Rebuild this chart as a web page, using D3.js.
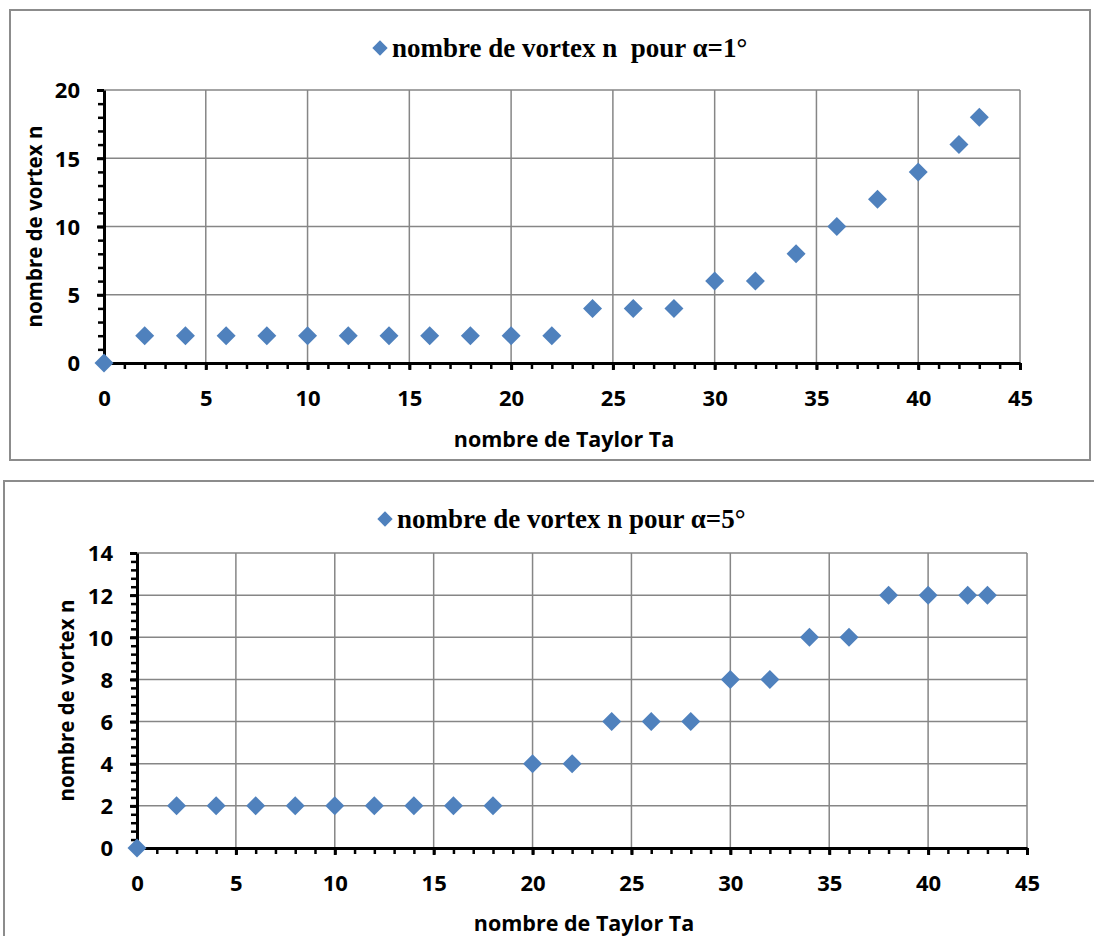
<!DOCTYPE html>
<html>
<head>
<meta charset="utf-8">
<script src="https://d3js.org/d3.v7.min.js"></script>
<style>
  body { margin: 0; background: #fff; }
  svg { display: block; }
</style>
</head>
<body>
<div id="chart"></div>
<script>
// data
const taylor = [0, 2, 4, 6, 8, 10, 12, 14, 16, 18, 20, 22, 24, 26, 28, 30, 32, 34, 36, 38, 40, 42, 43];
const vortexAlpha1 = [0, 2, 2, 2, 2, 2, 2, 2, 2, 2, 2, 2, 4, 4, 4, 6, 6, 8, 10, 12, 14, 16, 18];
const vortexAlpha5 = [0, 2, 2, 2, 2, 2, 2, 2, 2, 2, 4, 4, 6, 6, 6, 8, 8, 10, 10, 12, 12, 12, 12];
const xTicks = [0, 5, 10, 15, 20, 25, 30, 35, 40, 45];
const yTicks1 = [0, 5, 10, 15, 20];
const yTicks5 = [0, 2, 4, 6, 8, 10, 12, 14];
const titles = ["nombre de vortex n\u00a0 pour \u03b1=1\u00b0", "nombre de vortex n pour \u03b1=5\u00b0"];
const xLabel = "nombre de Taylor Ta";
const yLabel = "nombre de vortex n";

const W = 1094, H = 936;
const blue = "#4F81BD", grid = "#868686", frame = "#8c8c8c";
const labelFont = "'Open Sans', Lato, sans-serif";
const titleFont = "'Liberation Serif', 'Times New Roman', serif";

const svg = d3.select("#chart").append("svg")
  .attr("width", W)
  .attr("height", H);

const charts = [
  {
    frame: [10, 10, 1080, 450],
    plot: {left: 104, right: 1020, top: 90, bottom: 363},
    ys: vortexAlpha1, yMax: 20, yTicks: yTicks1, yMinor: 1,
    title: titles[0], titleX: 380, titleY: 48,
    yTitleX: 34, xTitleY: 438
  },
  {
    frame: [4, 481, 1100, 470],
    plot: {left: 137, right: 1027, top: 553, bottom: 848},
    ys: vortexAlpha5, yMax: 14, yTicks: yTicks5, yMinor: 0.4,
    title: titles[1], titleX: 385, titleY: 519,
    yTitleX: 66, xTitleY: 922
  }
];

charts.forEach(drawChart);

function drawChart(c) {
  const p = c.plot;
  const g = svg.append("g");

  // outer frame
  g.append("rect")
    .attr("x", c.frame[0]).attr("y", c.frame[1])
    .attr("width", c.frame[2]).attr("height", c.frame[3])
    .attr("fill", "none")
    .attr("stroke", frame)
    .attr("stroke-width", 2);

  const x = d3.scaleLinear().domain([0, 45]).range([p.left, p.right]);
  const y = d3.scaleLinear().domain([0, c.yMax]).range([p.bottom, p.top]);

  // gridlines
  g.append("g").selectAll("line.v")
    .data(xTicks.slice(1))
    .join("line")
    .attr("x1", d => x(d)).attr("x2", d => x(d))
    .attr("y1", p.top).attr("y2", p.bottom)
    .attr("stroke", grid).attr("stroke-width", 1.5);
  g.append("g").selectAll("line.h")
    .data(c.yTicks.slice(1))
    .join("line")
    .attr("x1", p.left).attr("x2", p.right)
    .attr("y1", d => y(d)).attr("y2", d => y(d))
    .attr("stroke", grid).attr("stroke-width", 1.5);

  // minor ticks
  const xMinor = d3.range(0, 45.001, 1);
  const yMinor = d3.range(0, c.yMax + 0.001, c.yMinor);
  const xm = g.append("g")
    .attr("transform", `translate(0,${p.bottom})`)
    .call(d3.axisBottom(x).tickValues(xMinor).tickSize(6).tickFormat(""));
  const ym = g.append("g")
    .attr("transform", `translate(${p.left},0)`)
    .call(d3.axisLeft(y).tickValues(yMinor).tickSize(6).tickFormat(""));
  [xm, ym].forEach(a => {
    a.select(".domain").remove();
    a.selectAll(".tick line").attr("stroke", "#000").attr("stroke-width", 2.5);
  });

  // major axes
  const xa = g.append("g")
    .attr("transform", `translate(0,${p.bottom})`)
    .call(d3.axisBottom(x).tickValues(xTicks).tickSize(7).tickPadding(20).tickSizeOuter(0));
  const ya = g.append("g")
    .attr("transform", `translate(${p.left},0)`)
    .call(d3.axisLeft(y).tickValues(c.yTicks).tickSize(7).tickPadding(17).tickSizeOuter(0));
  [xa, ya].forEach(a => {
    a.select(".domain").attr("stroke", "#000").attr("stroke-width", 3);
    a.selectAll(".tick line").attr("stroke", "#000").attr("stroke-width", 3);
    a.selectAll(".tick text")
      .attr("fill", "#000")
      .style("font-family", labelFont)
      .style("font-weight", "bold")
      .style("font-size", "22px");
  });
  ya.selectAll(".tick text").attr("dy", "0.36em");

  // axis titles
  g.append("text")
    .attr("x", (p.left + p.right) / 2 + 2)
    .attr("y", c.xTitleY)
    .attr("text-anchor", "middle")
    .attr("dominant-baseline", "central")
    .style("font-family", labelFont)
    .style("font-weight", "bold")
    .style("font-size", "21.5px")
    .text(xLabel);
  g.append("text")
    .attr("transform", `translate(${c.yTitleX},${(p.top + p.bottom) / 2}) rotate(-90)`)
    .attr("text-anchor", "middle")
    .attr("dominant-baseline", "central")
    .style("font-family", labelFont)
    .style("font-weight", "bold")
    .style("font-size", "20.5px")
    .text(yLabel);

  // legend-title
  const sym = d3.symbol().type(d3.symbolDiamond2).size(150);
  g.append("path")
    .attr("d", sym())
    .attr("transform", `translate(${c.titleX},${c.titleY})`)
    .attr("fill", blue);
  g.append("text")
    .attr("x", c.titleX + 12)
    .attr("y", c.titleY + 9)
    .style("font-family", titleFont)
    .style("font-weight", "bold")
    .style("font-size", "27px")
    .style("white-space", "pre")
    .text(c.title);

  // points
  const pts = taylor.map((t, i) => [t, c.ys[i]]);
  g.append("g").selectAll("path")
    .data(pts)
    .join("path")
    .attr("d", d3.symbol().type(d3.symbolDiamond2).size(230))
    .attr("transform", d => `translate(${x(d[0])},${y(d[1])})`)
    .attr("fill", blue);
}
</script>
</body>
</html>
